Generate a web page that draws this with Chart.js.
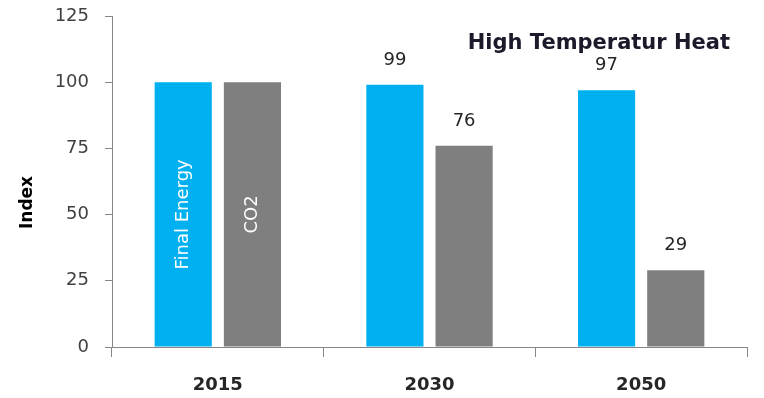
<!DOCTYPE html>
<html>
<head>
<meta charset="utf-8">
<script src="https://cdn.jsdelivr.net/npm/chart.js@4"></script>
<style>
  html, body { margin: 0; padding: 0; background: #fff; }
  canvas { display: block; }
</style>
</head>
<body>
<canvas id="c" width="764" height="398"></canvas>
<script>
// High Temperatur Heat: index 2015 = 100, final energy vs CO2
var years = ["2015", "2030", "2050"];
var finalEnergy = [100, 99, 97];
var co2 = [100, 76, 29];
var yTicks = [0, 25, 50, 75, 100, 125];
var seriesNames = ["Final Energy", "CO2"];
var yTitle = "Index";
var title = "High Temperatur Heat";

var FONT = "'DejaVu Sans', Verdana, sans-serif";
var AXIS = "#868686";
var TEXT = "#262626";

// value labels above 2030/2050 bars, series names inside the 2015 bars,
// chart title and y-axis title
var labelPlugin = {
  id: "labels",
  afterDatasetsDraw: function (chart) {
    var ctx = chart.ctx, area = chart.chartArea;
    ctx.save();
    chart.data.datasets.forEach(function (ds, di) {
      var meta = chart.getDatasetMeta(di);
      meta.data.forEach(function (bar, i) {
        if (i === 0) {
          ctx.save();
          ctx.translate(bar.x, (bar.y + bar.base) / 2);
          ctx.rotate(-Math.PI / 2);
          ctx.fillStyle = "#ffffff";
          ctx.font = "18px " + FONT;
          ctx.textAlign = "center";
          ctx.textBaseline = "middle";
          ctx.fillText(seriesNames[di], 0, 0);
          ctx.restore();
        } else {
          ctx.fillStyle = TEXT;
          ctx.font = "18px " + FONT;
          ctx.textAlign = "center";
          ctx.textBaseline = "alphabetic";
          ctx.fillText(String(ds.data[i]), bar.x, bar.y - 20);
        }
      });
    });
    ctx.fillStyle = "#1a1a2a";
    ctx.font = "bold 21px " + FONT;
    ctx.textAlign = "right";
    ctx.textBaseline = "alphabetic";
    ctx.fillText(title, area.right - 17, area.top + 33);

    ctx.save();
    ctx.translate(area.left - 84, (area.top + area.bottom) / 2 + 21);
    ctx.rotate(-Math.PI / 2);
    ctx.fillStyle = "#000";
    ctx.font = "bold 17px " + FONT;
    ctx.textAlign = "center";
    ctx.textBaseline = "middle";
    ctx.fillText(yTitle, 0, 0);
    ctx.restore();
    ctx.restore();
  }
};

new Chart(document.getElementById("c"), {
  type: "bar",
  data: {
    labels: years,
    datasets: [
      { label: seriesNames[0], data: finalEnergy, backgroundColor: "#00b0f0",
        categoryPercentage: 0.654, barPercentage: 0.826 },
      { label: seriesNames[1], data: co2, backgroundColor: "#7f7f7f",
        categoryPercentage: 0.654, barPercentage: 0.826 }
    ]
  },
  options: {
    responsive: false,
    animation: false,
    layout: { padding: { left: 0, right: 17, top: 0, bottom: 0 } },
    plugins: { legend: { display: false }, tooltip: { enabled: false }, title: { display: false } },
    scales: {
      x: {
        grid: { offset: true, drawOnChartArea: false, drawTicks: true, tickLength: 10, color: AXIS },
        border: { display: true, color: AXIS },
        ticks: { color: TEXT, font: { family: FONT, size: 18, weight: "bold" }, padding: 18 },
        afterFit: function (s) { s.height = 51; }
      },
      y: {
        min: 0, max: 125,
        afterBuildTicks: function (s) { s.ticks = yTicks.map(function (v) { return { value: v }; }); },
        grid: { drawOnChartArea: false, drawTicks: true, tickLength: 7, color: AXIS },
        border: { display: true, color: AXIS },
        ticks: { color: "#404040", font: { family: FONT, size: 18 }, padding: 16 },
        afterFit: function (s) { s.width = 112; s.paddingTop = 16; }
      }
    }
  },
  plugins: [labelPlugin]
});
</script>
</body>
</html>
